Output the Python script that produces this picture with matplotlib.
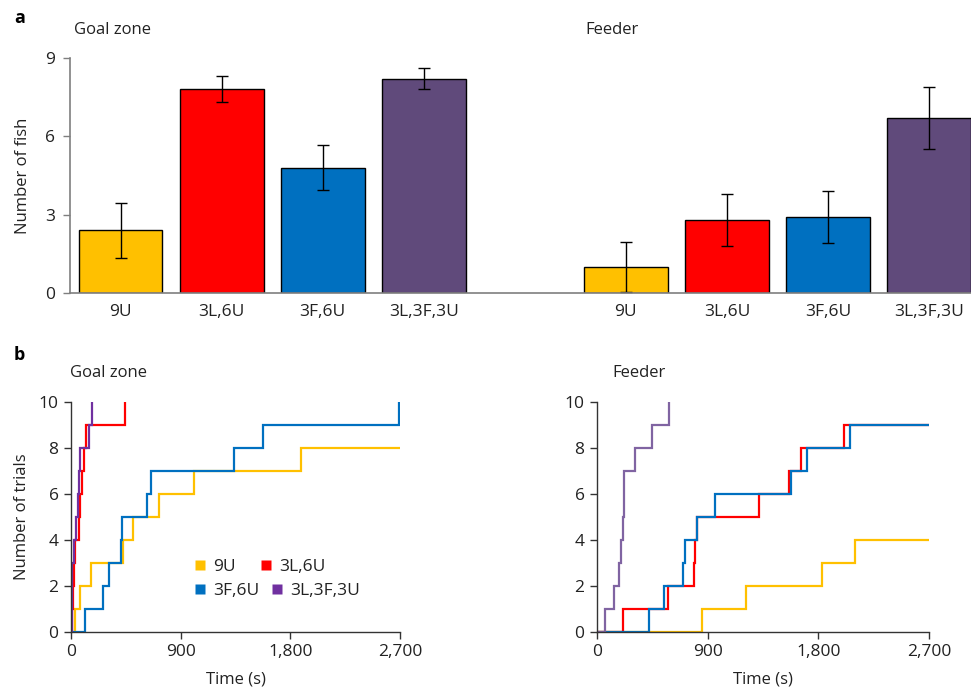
import matplotlib
matplotlib.use("Agg")
import matplotlib.pyplot as plt
from matplotlib.lines import Line2D
from matplotlib.ticker import FuncFormatter
import numpy as np

plt.rcParams['font.family'] = ['Open Sans', 'DejaVu Sans']

# ---------------- data ----------------
groups = ["9U", "3L,6U", "3F,6U", "3L,3F,3U"]
bar_colors = ["#FFC000", "#FF0000", "#0070C0", "#604A7B"]

goal_mean = [2.4, 7.8, 4.8, 8.2]
goal_err = [1.05, 0.5, 0.87, 0.4]
feeder_mean = [1.0, 2.8, 2.9, 6.7]
feeder_err = [0.95, 1.0, 1.0, 1.2]

# cumulative trials: times (s) at which each successive trial was reached
goal_times = {
    "9U": [30, 74, 161, 428, 510, 723, 1006, 1890],
    "3L,6U": [5, 16, 25, 30, 68, 74, 90, 106, 123, 442],
    "3F,6U": [112, 265, 311, 409, 417, 625, 660, 1334, 1574, 2690],
    "3L,3F,3U": [5, 8, 10, 25, 41, 55, 65, 74, 150, 175],
}
goal_end = {"9U": 2700, "3L,6U": 442, "3F,6U": 2690, "3L,3F,3U": 175}

feeder_times = {
    "9U": [856, 1210, 1826, 2098],
    "3L,6U": [215, 574, 786, 799, 813, 1318, 1563, 1658, 2006],
    "3F,6U": [424, 541, 696, 712, 815, 962, 1579, 1709, 2055],
    "3L,3F,3U": [68, 139, 180, 193, 210, 218, 222, 307, 451, 587],
}
feeder_end = {"9U": 2700, "3L,6U": 2700, "3F,6U": 2700, "3L,3F,3U": 587}

line_colors_goal = {"9U": "#FFC000", "3L,6U": "#FF0000", "3F,6U": "#0070C0", "3L,3F,3U": "#7030A0"}
line_colors_feeder = {"9U": "#FFC000", "3L,6U": "#FF0000", "3F,6U": "#0070C0", "3L,3F,3U": "#8064A2"}

time_ticks = [0, 900, 1800, 2700]
trial_ticks = [0, 2, 4, 6, 8, 10]
fish_ticks = [0, 3, 6, 9]

# ---------------- figure ----------------
W, H = 971, 696
fig = plt.figure(figsize=(W / 100, H / 100), dpi=100)

def rect(x0, y0, x1, y1):
    return [x0 / W, 1 - y1 / H, (x1 - x0) / W, (y1 - y0) / H]

spine_grey = "#7f7f7f"
text_col = "#222222"

# ---- panel a ----
axa = fig.add_axes(rect(70, 58, 971, 293))
pos = list(np.arange(len(groups))) + list(np.arange(len(groups)) + len(groups) + 1)
means = goal_mean + feeder_mean
errs = goal_err + feeder_err
cols = bar_colors + bar_colors
axa.bar(pos, means, width=0.83, color=cols, edgecolor="black", linewidth=1.0)
axa.errorbar(pos, means, yerr=errs, fmt="none", ecolor="black", elinewidth=1.0,
             capsize=4, capthick=1.0)
axa.set_xlim(-0.5, pos[-1] + 0.415)
axa.set_ylim(0, 9)
axa.set_yticks(fish_ticks)
axa.set_xticks(pos)
axa.set_xticklabels(groups + groups)
axa.tick_params(axis="x", length=0, pad=8, labelsize=12.5, colors=text_col)
axa.tick_params(axis="y", length=5, width=1, color=spine_grey, labelsize=12.5,
                colors=text_col, pad=6)
for s in ["top", "right"]:
    axa.spines[s].set_visible(False)
for s in ["left", "bottom"]:
    axa.spines[s].set_color(spine_grey)
    axa.spines[s].set_linewidth(1.2)
axa.set_ylabel("Number of fish", fontsize=12, color=text_col, labelpad=10)
axa.patch.set_alpha(0)

fig.text(14 / W, 1 - 18 / H, "a", fontsize=13, fontweight="bold", va="center", ha="left")
fig.text(74 / W, 1 - 30 / H, "Goal zone", fontsize=12, va="center", ha="left", color=text_col)
fig.text(585 / W, 1 - 30 / H, "Feeder", fontsize=12, va="center", ha="left", color=text_col)

# ---- panel b ----
def comma(x, p):
    return f"{int(x):,}"

def stepline(ax, times, end, color):
    xs = [0] + times + ([end] if end > times[-1] else [])
    ys = list(range(len(times) + 1))
    if end > times[-1]:
        ys = ys + [ys[-1]]
    ax.step(xs, ys, where="post", color=color, linewidth=1.6, solid_joinstyle="miter")

def style_b(ax):
    ax.set_xlim(0, 2700)
    ax.set_ylim(0, 10)
    ax.set_xticks(time_ticks)
    ax.set_yticks(trial_ticks)
    ax.xaxis.set_major_formatter(FuncFormatter(comma))
    ax.tick_params(axis="both", length=5, width=1, color="#333333", labelsize=12.5,
                   colors=text_col, pad=4)
    for s in ["top", "right"]:
        ax.spines[s].set_visible(False)
    for s in ["left", "bottom"]:
        ax.spines[s].set_color("#333333")
        ax.spines[s].set_linewidth(1.0)
    ax.set_xlabel("Time (s)", fontsize=12, color=text_col, labelpad=8)
    ax.patch.set_alpha(0)

axb1 = fig.add_axes(rect(71, 402, 400, 632))
for g in groups:
    stepline(axb1, goal_times[g], goal_end[g], line_colors_goal[g])
style_b(axb1)
axb1.set_ylabel("Number of trials", fontsize=12, color=text_col, labelpad=6)

axb2 = fig.add_axes(rect(597, 402, 929, 632))
for g in groups:
    stepline(axb2, feeder_times[g], feeder_end[g], line_colors_feeder[g])
style_b(axb2)

# legend: two independently spaced rows, (9U, 3L,6U) and (3F,6U, 3L,3F,3U)
def legend_row(ax, names, y, colspace):
    hs = [Line2D([], [], linestyle="none", marker="s", markersize=7.5,
                 markerfacecolor=line_colors_goal[g], markeredgecolor="none") for g in names]
    lg = ax.legend(hs, names, ncol=2, loc="center left",
                   bbox_to_anchor=(0.374, y), frameon=False, fontsize=12.5,
                   handlelength=0.7, handletextpad=0.4, columnspacing=colspace,
                   borderpad=0, borderaxespad=0)
    for t in lg.get_texts():
        t.set_color(text_col)
    return lg

leg1 = legend_row(axb1, [groups[0], groups[1]], 0.284, 1.4)
axb1.add_artist(leg1)
leg2 = legend_row(axb1, [groups[2], groups[3]], 0.178, 0.65)

fig.text(14 / W, 1 - 355 / H, "b", fontsize=13, fontweight="bold", va="center", ha="left")
fig.text(70 / W, 1 - 373 / H, "Goal zone", fontsize=12, va="center", ha="left", color=text_col)
fig.text(612 / W, 1 - 373 / H, "Feeder", fontsize=12, va="center", ha="left", color=text_col)

fig.savefig("out.png", dpi=100)
